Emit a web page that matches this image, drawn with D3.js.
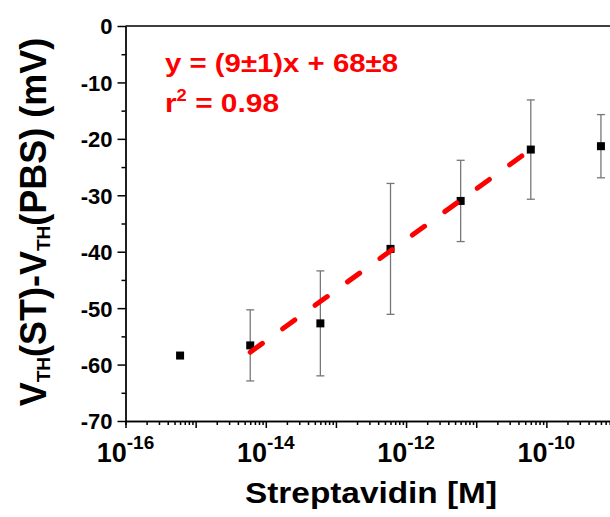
<html>
<head>
<meta charset="utf-8">
<script src="https://cdn.jsdelivr.net/npm/d3@7"></script>
<style>
body { margin: 0; background: white; }
text { font-family: "Liberation Sans", Arial, sans-serif; font-weight: bold; }
</style>
</head>
<body>
<svg class="chart" width="610" height="517"></svg>
<script>

// data
var conc   = [6e-16, 6e-15, 6e-14, 6e-13, 6e-12, 6e-11, 6e-10];
var dVth   = [-58.4, -56.6, -52.7, -39.5, -31.0, -21.9, -21.3];
var dVerr  = [0, 6.3, 9.3, 11.6, 7.2, 8.8, 5.6];
var fitX   = [6e-15, 5e-11];
var fitY   = [-57.8, -22.6];
var yTicks = [0, -10, -20, -30, -40, -50, -60, -70];
var xLabelExps = [-16, -14, -12, -10];

var svg = d3.select(".chart");

var x = d3.scaleLog().domain([1e-16, 1e-9]).range([125.5, 616.5]);
var y = d3.scaleLinear().domain([-70, 0]).range([421, 26]);

// minor ticks on the log axis
var xMinor = [];
for (var e = -16; e < -9; e++) {
  for (var m = 2; m <= 9; m++) xMinor.push(m * Math.pow(10, e));
}
var xMajor = d3.range(-16, -8).map(function(e) { return Math.pow(10, e); });

svg.append("g")
   .attr("transform", "translate(0,421)")
   .call(d3.axisBottom(x).tickValues(xMinor).tickSize(4).tickFormat(""));
svg.append("g")
   .attr("transform", "translate(0,421)")
   .call(d3.axisBottom(x).tickValues(xMajor).tickSize(7).tickSizeOuter(0).tickFormat(""));
svg.selectAll("g path.domain, g .tick line").attr("stroke", "black").attr("stroke-width", 1.5);

// top frame line
svg.append("line")
   .attr("x1", x(1e-16)).attr("x2", 610)
   .attr("y1", y(0)).attr("y2", y(0))
   .attr("stroke", "black").attr("stroke-width", 1.5);

var yMinor = d3.range(-65, 0, 10);
svg.append("g")
   .attr("transform", "translate(125.5,0)")
   .call(d3.axisLeft(y).tickValues(yMinor).tickSize(4).tickFormat(""))
   .call(function(g) { g.selectAll("line").attr("stroke", "black").attr("stroke-width", 1.5); });
svg.append("g")
   .attr("transform", "translate(125.5,0)")
   .call(d3.axisLeft(y).tickValues(yTicks).tickSize(8).tickSizeOuter(0).tickPadding(5)
         .tickFormat(function(d) { return String(d); }))
   .call(function(g) {
      g.selectAll("line, path").attr("stroke", "black").attr("stroke-width", 1.5);
      g.selectAll("text").attr("font-size", 22).attr("font-family", "Liberation Sans")
        .attr("font-weight", "bold").attr("fill", "black").attr("dy", "0.36em");
   });

// x tick labels 10^n
var xl = svg.append("g").selectAll("text")
   .data(xLabelExps).enter()
   .append("text")
   .attr("x", function(d) { return x(Math.pow(10, d)); })
   .attr("y", 462)
   .attr("text-anchor", "middle")
   .attr("font-size", 27);
xl.append("tspan").text("10");
xl.append("tspan").attr("font-size", 19).attr("dy", -13).text(function(d) { return d; });

// error bars
var eb = svg.append("g").attr("stroke", "#777").attr("stroke-width", 1.3);
conc.forEach(function(c, i) {
  if (!dVerr[i]) return;
  var cx = x(c);
  eb.append("line").attr("x1", cx).attr("x2", cx)
    .attr("y1", y(dVth[i] + dVerr[i])).attr("y2", y(dVth[i] - dVerr[i]));
  [1, -1].forEach(function(s) {
    eb.append("line").attr("x1", cx - 4).attr("x2", cx + 4)
      .attr("y1", y(dVth[i] + s * dVerr[i])).attr("y2", y(dVth[i] + s * dVerr[i]));
  });
});

// squares
svg.append("g").selectAll("rect")
   .data(conc).enter()
   .append("rect")
   .attr("x", function(d) { return x(d) - 4; })
   .attr("y", function(d, i) { return y(dVth[i]) - 4; })
   .attr("width", 8).attr("height", 8)
   .attr("fill", "black");

// linear fit, dashed red
svg.append("path")
   .datum(fitX)
   .attr("d", d3.line().x(function(d) { return x(d); }).y(function(d, i) { return y(fitY[i]); }))
   .attr("fill", "none")
   .attr("stroke", "#ff0000")
   .attr("stroke-width", 5)
   .attr("stroke-linecap", "round")
   .attr("stroke-dasharray", "15,25");

// fit text
svg.append("text")
   .attr("x", 165).attr("y", 72)
   .attr("fill", "#ff0000").attr("font-size", 26)
   .attr("textLength", 233).attr("lengthAdjust", "spacingAndGlyphs")
   .text("y = (9\u00b11)x + 68\u00b18");
var r2 = svg.append("text")
   .attr("x", 165).attr("y", 112)
   .attr("fill", "#ff0000").attr("font-size", 26)
   .attr("textLength", 114).attr("lengthAdjust", "spacingAndGlyphs");
r2.append("tspan").text("r");
r2.append("tspan").attr("font-size", 16).attr("dy", -11).text("2");
r2.append("tspan").attr("dy", 11).text(" = 0.98");

// axis titles
svg.append("text")
   .attr("x", 371).attr("y", 503)
   .attr("text-anchor", "middle")
   .attr("font-size", 29)
   .attr("textLength", 252).attr("lengthAdjust", "spacingAndGlyphs")
   .text("Streptavidin [M]");

var yt = svg.append("text")
   .attr("transform", "translate(46,222) rotate(-90)")
   .attr("text-anchor", "middle")
   .attr("font-size", 36);
yt.append("tspan").text("V");
yt.append("tspan").attr("font-size", 19).attr("dy", 4).text("TH");
yt.append("tspan").attr("dy", -4).text("(ST)-V");
yt.append("tspan").attr("font-size", 19).attr("dy", 4).text("TH");
yt.append("tspan").attr("dy", -4).text("(PBS) (mV)");

</script>
</body>
</html>
